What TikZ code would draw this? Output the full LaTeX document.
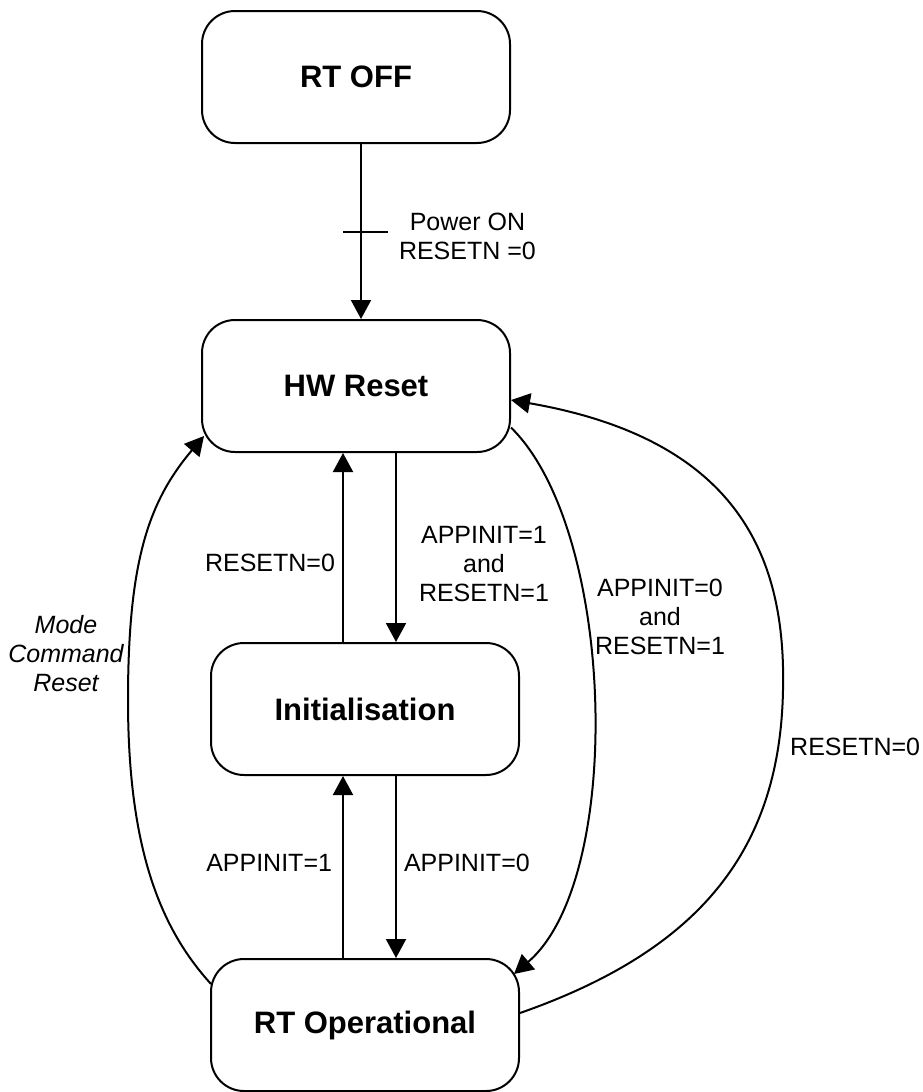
\documentclass[tikz,border=0pt]{standalone}
\usepackage{fontspec}
\setmainfont{Liberation Sans}
\usetikzlibrary{arrows.meta,positioning,calc}

\begin{document}
\begin{tikzpicture}[
    x=1pt, y=-1pt,
    state/.style={rectangle, draw, line width=2pt, rounded corners=33pt, minimum width=308pt, minimum height=132pt, font=\fontsize{31}{37}\selectfont\bfseries},
    arrow/.style={-{Triangle[length=19pt,width=20pt]}, line width=2pt},
    cond/.style={font=\fontsize{25}{29}\selectfont, align=center, inner sep=0pt},
    modecond/.style={cond, font=\fontsize{25}{29}\selectfont\itshape}
]

    \useasboundingbox (0,0) rectangle (922,1092);

    % --- States ---
    \node[state] (off) at (356,77) {RT OFF};
    \node[state] (hw) at (356,386) {HW Reset};
    \node[state] (init) at (365,709) {Initialisation};
    \node[state] (op) at (365,1025) {RT Operational};

    % --- Power on ---
    \draw[arrow] ([xshift=5pt]off.south) -- coordinate[pos=0.5] (tick)
        node[cond, pos=0.53, right=37pt] (l_power) {Power ON\\RESETN =0}
        ([xshift=5pt]off.south |- hw.north);
    \draw[line width=2pt] ([xshift=-18pt]tick) -- ([xshift=27pt]tick);

    % --- HW Reset <-> Initialisation ---
    \draw[arrow] ([xshift=-22pt]init.north) --
        node[cond, pos=0.42, left=7pt] (l_rst0) {RESETN=0}
        ([xshift=-22pt]init.north |- hw.south);
    \draw[arrow] ([xshift=31pt]init.north |- hw.south) --
        node[cond, pos=0.586, right=22pt] (l_a1r1) {APPINIT=1\\and\\RESETN=1}
        ([xshift=31pt]init.north);

    % --- Initialisation <-> RT Operational ---
    \draw[arrow] ([xshift=-22pt]op.north) --
        node[cond, pos=0.52, left=10pt] (l_a1) {APPINIT=1}
        ([xshift=-22pt]init.south);
    \draw[arrow] ([xshift=31pt]init.south) --
        node[cond, pos=0.48, right=7pt] (l_a0) {APPINIT=0}
        ([xshift=31pt]op.north);

    % --- HW Reset -> RT Operational ---
    \draw[arrow] (hw.-15) .. controls +(105,103) and +(111,-95) ..
        ($(op.north east)+(-6,16)$);
    \node[cond] (l_a0r1) at (660,617) {APPINIT=0\\and\\RESETN=1};

    % --- RT Operational -> HW Reset (right) ---
    \draw[arrow] ([yshift=12pt]op.east) .. controls +(180,-63) and +(-3,160) ..
        (783,690) .. controls +(3,-130) and +(230,40) .. ([yshift=-14pt]hw.east);
    \node[cond, anchor=west] (l_rst0b) at (790,747) {RESETN=0};

    % --- RT Operational -> HW Reset (left) ---
    \draw[arrow] ($(op.north west)+(1,26)$) .. controls +(-50,-55) and +(0,150) ..
        (128,700) .. controls +(0,-140) and +(-55,65) .. ($(hw.south west)+(3,-17)$);
    \node[modecond] (l_mode) at (66,654) {Mode\\Command\\Reset};

\end{tikzpicture}
\end{document}
